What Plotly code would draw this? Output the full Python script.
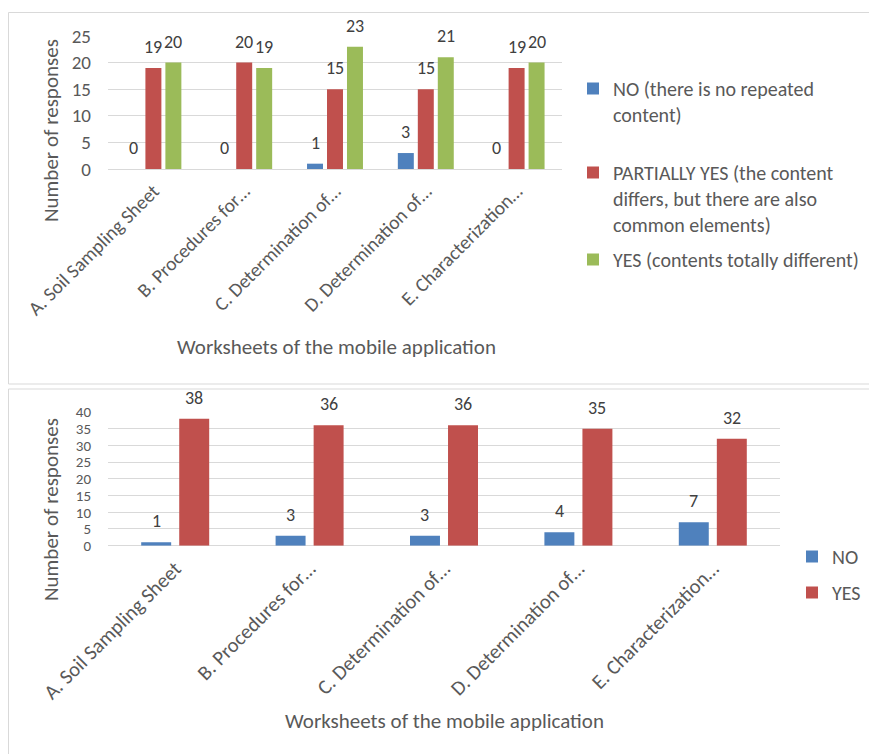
import plotly.graph_objects as go

# ---------------- data ----------------
categories = ["A. Soil Sampling Sheet", "B. Procedures for\u2026", "C. Determination of\u2026",
              "D. Determination of\u2026", "E. Characterization\u2026"]

top_no = [0, 0, 1, 3, 0]
top_partial = [19, 20, 15, 15, 19]
top_yes = [20, 19, 23, 21, 20]
top_names = ["NO (there is no repeated<br>content)",
             "PARTIALLY YES (the content<br>differs, but there are also<br>common elements)",
             "YES (contents totally different)"]

bot_no = [1, 3, 3, 4, 7]
bot_yes = [38, 36, 36, 35, 32]
bot_names = ["NO", "YES"]

y_title = "Number of responses"
x_title = "Worksheets of the mobile application"

# ---------------- style ----------------
W, H = 869, 754
BLUE, RED, GREEN = "#4f81bd", "#c0504d", "#9bbb59"
TXT = "#595959"
GRID = "#d9d9d9"
FONT = "Carlito, Calibri, Lato, sans-serif"


def fx(px):
    return px / W


def fy(py):
    return 1 - py / H


fig = go.Figure()

# bar geometry (category units)
t_slot, t_width = 0.22, 0.176
b_slot, b_width = 0.283, 0.223


def add_group(series, colors, names, slot, width, xa, ya, legends):
    n = len(series)
    anns = []
    for j, (vals, col, nm, lg) in enumerate(zip(series, colors, names, legends)):
        off = -slot * n / 2 + slot * j + (slot - width) / 2
        fig.add_trace(go.Bar(
            x=list(range(len(categories))), y=vals, name=nm, marker_color=col,
            marker_line_width=0, width=width, offset=off,
            xaxis=xa, yaxis=ya, legend=lg, showlegend=True,
        ))
        for i, v in enumerate(vals):
            anns.append(dict(
                x=i + off + width / 2, y=v, xref=xa, yref=ya, text=str(v),
                showarrow=False, yanchor="bottom", yshift=8,
                font=dict(family=FONT, size=18, color="#404040"),
            ))
    return anns


anns = []
anns += add_group([top_no, top_partial, top_yes], [BLUE, RED, GREEN], top_names,
                  t_slot, t_width, "x", "y", ["legend", "legend2", "legend3"])
anns += add_group([bot_no, bot_yes], [BLUE, RED], bot_names,
                  b_slot, b_width, "x2", "y2", ["legend4", "legend5"])

# axis titles
TFONT = dict(family=FONT, size=21, color=TXT)


def title_ann(xp, yp, text, angle=0):
    return dict(x=fx(xp), y=fy(yp), xref="paper", yref="paper", text=text,
                textangle=angle, xanchor="center", yanchor="middle",
                showarrow=False, font=TFONT)


anns += [
    title_ann(51, 131, y_title, -90),
    title_ann(336, 347, x_title),
    title_ann(51, 510, y_title, -90),
    title_ann(444, 721, x_title),
]

xcommon = dict(
    tickmode="array", tickvals=list(range(len(categories))), ticktext=categories,
    tickangle=-45, showgrid=False, zeroline=False, showline=False, ticks="",
    ticklabelstandoff=6,
    range=[-0.5, len(categories) - 0.5], automargin=False,
)
ycommon = dict(
    dtick=5, showgrid=True, gridcolor=GRID, gridwidth=1, zeroline=True,
    zerolinecolor=GRID, zerolinewidth=1, showline=False, ticks="",
    ticklabelstandoff=16, automargin=False,
)

leg_font = dict(family=FONT, size=20, color=TXT)


def leg(xp, yp):
    return dict(x=fx(xp), y=fy(yp), xanchor="left", yanchor="top", valign="top",
                font=leg_font, bgcolor="rgba(0,0,0,0)", itemclick=False,
                itemdoubleclick=False, tracegroupgap=0)


fig.update_layout(
    width=W, height=H, margin=dict(l=0, r=0, t=0, b=0, autoexpand=False),
    paper_bgcolor="white", plot_bgcolor="white",
    barmode="group",
    xaxis=dict(domain=[fx(108), fx(562)], anchor="y",
               tickfont=dict(family=FONT, size=19.5, color=TXT), **xcommon),
    yaxis=dict(domain=[fy(169), fy(36)], anchor="x", range=[0, 25],
               tickfont=dict(family=FONT, size=19, color=TXT), **ycommon),
    xaxis2=dict(domain=[fx(108), fx(780)], anchor="y2",
                tickfont=dict(family=FONT, size=20.5, color=TXT), **xcommon),
    yaxis2=dict(domain=[fy(545.7), fy(412)], anchor="x2", range=[0, 40],
                tickfont=dict(family=FONT, size=15, color=TXT), **ycommon),
    legend=leg(573, 69),
    legend2=leg(573, 153),
    legend3=leg(573, 240),
    legend4=leg(792, 537),
    legend5=leg(792, 573),
    annotations=anns,
    shapes=[
        dict(type="rect", xref="paper", yref="paper", x0=fx(8.5), x1=fx(880),
             y0=fy(384), y1=fy(12.5), line=dict(color=GRID, width=1)),
        dict(type="rect", xref="paper", yref="paper", x0=fx(8.5), x1=fx(880),
             y0=fy(770), y1=fy(389), line=dict(color=GRID, width=1)),
    ],
)

fig.write_html("out.html")
